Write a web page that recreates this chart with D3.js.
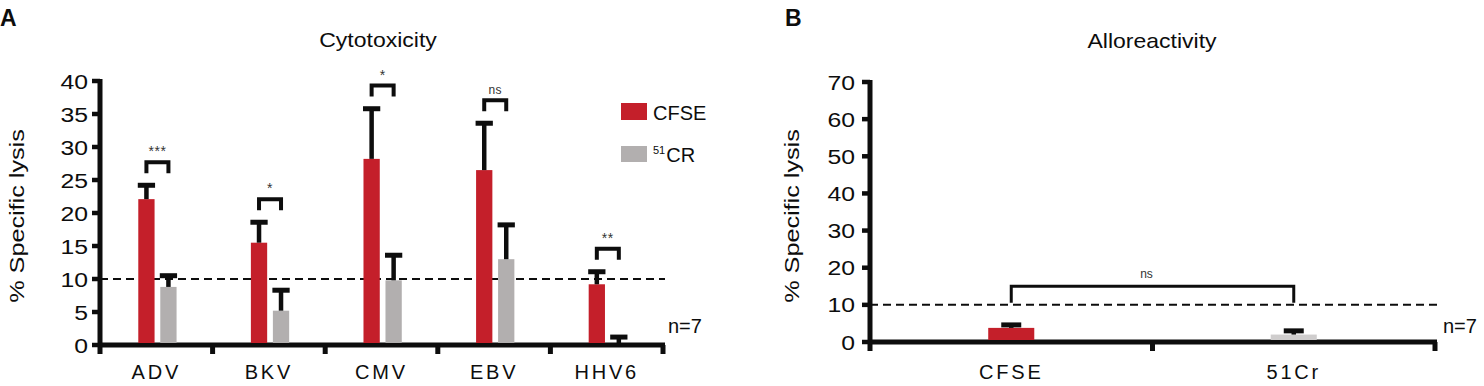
<!DOCTYPE html>
<html>
<head>
<meta charset="utf-8">
<script src="https://cdn.jsdelivr.net/npm/d3@7"></script>
<style>
  body { margin: 0; background: #fff; }
  svg { display: block; font-family: "Liberation Sans", Arial, sans-serif; }
</style>
</head>
<body>
<svg width="1484" height="386"></svg>
<script>
(function (d3) {
  'use strict';

  // panel A - cytotoxicity
  const virusCats = ['ADV', 'BKV', 'CMV', 'EBV', 'HHV6'];
  const cfseLysis = [22.1, 15.5, 28.2, 26.5, 9.2];
  const cfseUpper = [24.2, 18.6, 35.8, 33.6, 11.1];
  const crLysis = [8.8, 5.2, 9.8, 13.0, 0.2];
  const crUpper = [10.5, 8.3, 13.6, 18.2, 1.2];
  const sigA = ['***', '*', '*', 'ns', '**'];
  const ticksA = [0, 5, 10, 15, 20, 25, 30, 35, 40];

  // panel B - alloreactivity
  const alloCats = ['CFSE', '51Cr'];
  const alloLysis = [3.8, 2.0];
  const alloUpper = [4.6, 3.0];
  const sigB = 'ns';
  const ticksB = [0, 10, 20, 30, 40, 50, 60, 70];

  const cutoff = 10;
  const nLabel = 'n=7';

  const RED = '#c41f2a', GREY = '#b2afaf', INK = '#0d0d0d';

  const svg = d3.select('svg');

  function txt(g, x, y, s, o) {
    o = o || {};
    return g.append('text')
      .attr('transform', `translate(${x},${y}) scale(${o.sx || 1},1)`)
      .attr('text-anchor', o.anchor || 'middle')
      .attr('font-size', o.size || 20)
      .attr('font-weight', o.weight || 'normal')
      .attr('letter-spacing', o.ls || 0)
      .attr('fill', o.fill || INK)
      .text(s);
  }

  function frame(g, x, y, ticks, tickGap) {
    const [x0, x1] = [x.range()[0], x.range()[1]];
    const y0 = y(0);
    // y axis, running a little past the baseline
    g.append('line').attr('x1', x0).attr('x2', x0)
      .attr('y1', y(y.domain()[1]) - 2).attr('y2', y0 + 9)
      .attr('stroke', INK).attr('stroke-width', 5);
    g.append('line').attr('x1', x0).attr('x2', x1 + 2)
      .attr('y1', y0).attr('y2', y0)
      .attr('stroke', INK).attr('stroke-width', 5);
    g.selectAll('.yt').data(ticks).enter().append('line')
      .attr('x1', x0 - 8).attr('x2', x0)
      .attr('y1', d => y(d)).attr('y2', d => y(d))
      .attr('stroke', INK).attr('stroke-width', 4.5);
    ticks.forEach(t => txt(g, x0 - tickGap, y(t) + 7.5, t, { anchor: 'end', size: 21, sx: 1.18 }));
    // boundary ticks below x axis
    const bounds = x.domain().slice(1).map(c => x(c)).concat([x1]);
    g.selectAll('.xt').data(bounds).enter().append('line')
      .attr('x1', d => d).attr('x2', d => d)
      .attr('y1', y0).attr('y2', y0 + 9)
      .attr('stroke', INK).attr('stroke-width', 5);
    x.domain().forEach(c => txt(g, x(c) + x.bandwidth() / 2, 379, c, { size: 20, ls: 2.8 }));
    // cutoff line
    g.append('line').attr('x1', x0).attr('x2', x1 + 2)
      .attr('y1', y(cutoff)).attr('y2', y(cutoff))
      .attr('stroke', INK).attr('stroke-width', 2)
      .attr('stroke-dasharray', '8,5');
  }

  function errBar(g, cx, yTop, yEnd, w) {
    g.append('line').attr('x1', cx).attr('x2', cx)
      .attr('y1', yTop).attr('y2', yEnd)
      .attr('stroke', INK).attr('stroke-width', 4.5);
    g.append('line').attr('x1', cx - w / 2).attr('x2', cx + w / 2)
      .attr('y1', yEnd).attr('y2', yEnd)
      .attr('stroke', INK).attr('stroke-width', 5);
  }

  // ---------- A ----------
  const gA = svg.append('g');
  const xA = d3.scaleBand().domain(virusCats).range([100, 663]);
  const yA = d3.scaleLinear().domain([0, 40]).range([345, 81]);
  const bwA = xA.bandwidth();
  const xSub = d3.scaleBand().domain(['cfse', 'cr'])
    .range([bwA * 0.34, bwA * 0.68]).paddingInner(0.26);

  const rowsA = virusCats.map((c, i) => ({
    c, cf: cfseLysis[i], cfU: cfseUpper[i], cr: crLysis[i], crU: crUpper[i], sig: sigA[i]
  }));

  frame(gA, xA, yA, ticksA, 12);

  rowsA.forEach(r => {
    const xa = xA(r.c) + xSub('cfse'), xb = xA(r.c) + xSub('cr');
    const w = xSub.bandwidth();
    gA.append('rect').attr('x', xa).attr('y', yA(r.cf)).attr('width', w)
      .attr('height', yA(0) - yA(r.cf) - 2).attr('fill', RED);
    gA.append('rect').attr('x', xb).attr('y', yA(r.cr)).attr('width', w)
      .attr('height', Math.max(0, yA(0) - yA(r.cr) - 2)).attr('fill', GREY);
    errBar(gA, xa + w / 2, yA(r.cf), yA(r.cfU), w + 1);
    errBar(gA, xb + w / 2, yA(r.cr), yA(r.crU), w + 1);
    // significance bracket
    const top = yA(Math.max(r.cfU, r.crU) + 3.5);
    gA.append('path')
      .attr('d', `M${xa + w / 2},${top + 11}V${top}H${xb + w / 2}V${top + 11}`)
      .attr('fill', 'none').attr('stroke', INK).attr('stroke-width', 4);
    txt(gA, (xa + xb + w) / 2, top - 6, r.sig, { size: r.sig === 'ns' ? 12 : 14, fill: '#333', ls: 0.5 });
  });

  txt(gA, 378, 47, 'Cytotoxicity', { size: 20, sx: 1.15 });
  txt(gA, 0, 26, 'A', { anchor: 'start', size: 23, weight: 'bold' });
  txt(gA, 668, 333, nLabel, { anchor: 'start', size: 20 });
  gA.append('text')
    .attr('transform', 'translate(24,216) rotate(-90) scale(1.2,1)')
    .attr('text-anchor', 'middle').attr('font-size', 21).attr('fill', INK)
    .text('% Specific lysis');

  // legend
  const leg = gA.append('g');
  leg.append('rect').attr('x', 621).attr('y', 103).attr('width', 26).attr('height', 17).attr('fill', RED);
  leg.append('rect').attr('x', 621).attr('y', 146).attr('width', 26).attr('height', 16).attr('fill', GREY);
  txt(leg, 653, 120, 'CFSE', { anchor: 'start', size: 20 });
  const t51 = leg.append('text').attr('x', 653).attr('y', 162)
    .attr('font-size', 20).attr('fill', INK);
  t51.append('tspan').attr('font-size', 11).attr('dy', -8).text('51');
  t51.append('tspan').attr('dy', 8).attr('dx', 1).text('CR');

  // ---------- B ----------
  const gB = svg.append('g');
  const xB = d3.scaleBand().domain(alloCats).range([870, 1435]);
  const yB = d3.scaleLinear().domain([0, 70]).range([342, 82]);
  frame(gB, xB, yB, ticksB, 15);

  const wB = xB.bandwidth() * 0.163;
  alloCats.forEach((c, i) => {
    const cx = xB(c) + xB.bandwidth() / 2;
    gB.append('rect').attr('x', cx - wB / 2).attr('y', yB(alloLysis[i]))
      .attr('width', wB).attr('height', yB(0) - yB(alloLysis[i]) - 2)
      .attr('fill', i === 0 ? RED : '#cfcdcd');
    errBar(gB, cx, yB(alloLysis[i]), yB(alloUpper[i]), 20);
  });
  const c1 = xB(alloCats[0]) + xB.bandwidth() / 2, c2 = xB(alloCats[1]) + xB.bandwidth() / 2;
  const topB = yB(15);
  gB.append('path')
    .attr('d', `M${c1},${yB(10.6)}V${topB}H${c2}V${yB(10.6)}`)
    .attr('fill', 'none').attr('stroke', INK).attr('stroke-width', 3);
  txt(gB, (c1 + c2) / 2 - 6, topB - 8, sigB, { size: 12, fill: '#333' });

  txt(gB, 1152, 48, 'Alloreactivity', { size: 20, sx: 1.15 });
  txt(gB, 785, 26, 'B', { anchor: 'start', size: 23, weight: 'bold' });
  txt(gB, 1443, 333, nLabel, { anchor: 'start', size: 20 });
  gB.append('text')
    .attr('transform', 'translate(799,216) rotate(-90) scale(1.2,1)')
    .attr('text-anchor', 'middle').attr('font-size', 21).attr('fill', INK)
    .text('% Specific lysis');
}(d3));
</script>
</body>
</html>
